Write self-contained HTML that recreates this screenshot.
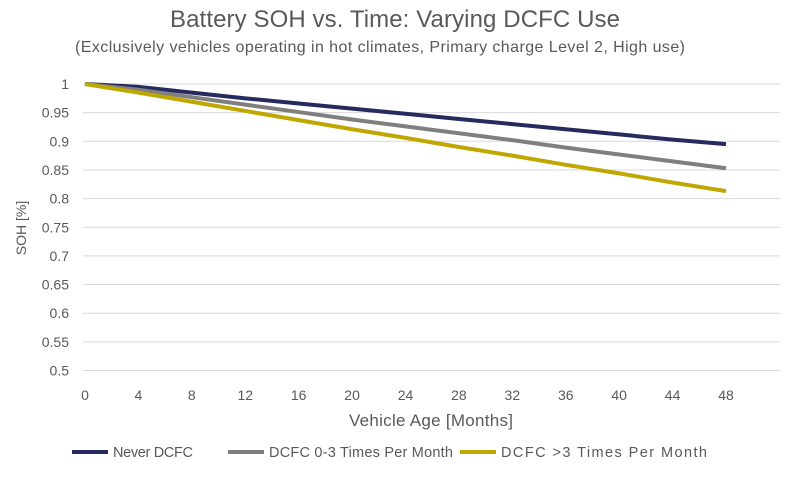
<!DOCTYPE html>
<html><head><meta charset="utf-8"><style>
body{margin:0;background:#fff;width:793px;height:482px;overflow:hidden;font-family:"Liberation Sans",sans-serif}
</style></head><body>
<svg width="793" height="482" id="chart" font-family="Liberation Sans, sans-serif">
<text x="395" y="27" text-anchor="middle" font-size="24" textLength="450" fill="#595959">Battery SOH vs. Time: Varying DCFC Use</text>
<text x="380" y="52" text-anchor="middle" font-size="16" textLength="610" fill="#595959">(Exclusively vehicles operating in hot climates, Primary charge Level 2, High use)</text>
<text transform="translate(26,228) rotate(-90)" text-anchor="middle" font-size="14" fill="#595959">SOH [%]</text>
<text x="431" y="426" text-anchor="middle" font-size="17" textLength="164" fill="#595959">Vehicle Age [Months]</text>
<g id="grid"></g><g id="series"></g><g id="legend"></g>
</svg>
<script>
const months=[0,4,8,12,16,20,24,28,32,36,40,44,48];
const yTicks=[0.5,0.55,0.6,0.65,0.7,0.75,0.8,0.85,0.9,0.95,1];
const yTickLabels=["0.5","0.55","0.6","0.65","0.7","0.75","0.8","0.85","0.9","0.95","1"];
const xTicks=[0,4,8,12,16,20,24,28,32,36,40,44,48];
const seriesNames=["Never DCFC","DCFC 0-3 Times Per Month","DCFC >3 Times Per Month"];
const neverDCFC=[1,0.995,0.985,0.975,0.966,0.957,0.948,0.939,0.930,0.921,0.912,0.903,0.895];
const dcfcLow=[1,0.99,0.977,0.964,0.951,0.938,0.926,0.914,0.902,0.889,0.877,0.865,0.853];
const dcfcHigh=[1,0.985,0.969,0.953,0.937,0.921,0.906,0.890,0.875,0.859,0.844,0.828,0.813];
const colors=["#262b5f","#7f7f7f","#bfa700"];
const NS="http://www.w3.org/2000/svg";
const xs=m=>85+m*(726-85)/48;
const ys=v=>84+(1-v)*(370.5-84)/0.5;
function mk(t,a,p){const e=document.createElementNS(NS,t);for(const k in a)e.setAttribute(k,a[k]);p.appendChild(e);return e;}
const grid=document.getElementById('grid');
yTicks.forEach((v,i)=>{
 const l=mk('line',{x1:83,x2:780,y1:ys(v),y2:ys(v),stroke:'#d9d9d9','stroke-width':1},grid);
 
 
 const t=mk('text',{x:69,y:ys(v)+5,'text-anchor':'end','font-size':14,fill:'#595959'},grid);
 t.textContent=yTickLabels[i];
 
 
});
xTicks.forEach(m=>{
 const t=mk('text',{x:xs(m),y:400,'text-anchor':'middle','font-size':14,fill:'#595959'},grid);
 t.textContent=m;
 
 
});
const data=[neverDCFC,dcfcLow,dcfcHigh];
const sg=document.getElementById('series');
data.forEach((d,i)=>{
 const p=mk('polyline',{points:d.map((v,j)=>xs(months[j])+','+ys(v)).join(' '),fill:'none',stroke:colors[i],'stroke-width':4,'stroke-linejoin':'round'},sg);
 
 
});
const lg=document.getElementById('legend');
const lx=[72,228,460];
const lw=[80,184,206];
seriesNames.forEach((n,i)=>{
 const l=mk('line',{x1:lx[i],x2:lx[i]+36,y1:452,y2:452,stroke:colors[i],'stroke-width':4},lg);
 
 
 const t=mk('text',{x:lx[i]+41,y:457,'font-size':14.5,fill:'#595959',textLength:lw[i]},lg);
 t.textContent=n;
 
 
});
</script>
</body></html>
